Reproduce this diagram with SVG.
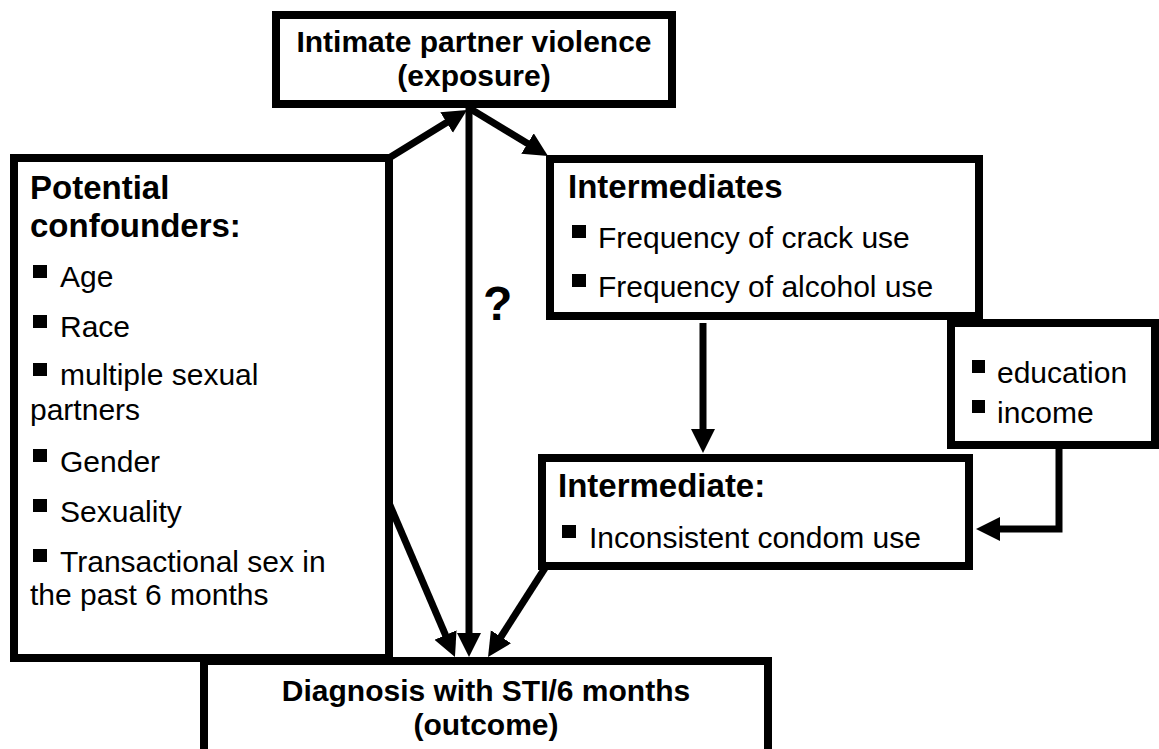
<svg xmlns="http://www.w3.org/2000/svg" width="1159" height="749" viewBox="0 0 1159 749">
  <defs>
    <marker id="head" markerUnits="userSpaceOnUse" markerWidth="26" markerHeight="26" refX="2" refY="12" orient="auto">
      <path d="M0,0 L24,12 L0,24 Z" fill="#000"/>
    </marker>
    <style>
      .box { fill: #fff; stroke: #000; stroke-width: 8; }
      .t { font-family: "Liberation Sans", Arial, sans-serif; fill: #000; }
      .title { font-size: 30px; font-weight: bold; text-anchor: middle; }
      .head { font-size: 33px; font-weight: bold; }
      .item { font-size: 30px; }
      .bul { fill: #000; }
      .link { fill: none; stroke: #000; stroke-width: 7; marker-end: url(#head); }
    </style>
  </defs>
  <rect width="1159" height="749" fill="#fff"/>

  <!-- outcome -->
  <g id="outcome">
    <rect class="box" x="204" y="661" width="564" height="92"/>
    <text class="t title" x="486" y="701">Diagnosis with STI/6 months</text>
    <text class="t title" x="486" y="735">(outcome)</text>
  </g>

  <!-- exposure -->
  <g id="exposure">
    <rect class="box" x="276" y="15" width="396" height="89"/>
    <text class="t title" x="474" y="52">Intimate partner violence</text>
    <text class="t title" x="474" y="86">(exposure)</text>
  </g>

  <!-- confounders -->
  <g id="confounders">
    <rect class="box" x="14" y="158" width="375" height="500"/>
    <text class="t head" x="30" y="199">Potential</text>
    <text class="t head" x="30" y="237">confounders:</text>
    <rect class="bul" x="33" y="265" width="14" height="13"/>
    <text class="t item" x="60" y="287">Age</text>
    <rect class="bul" x="33" y="315" width="14" height="13"/>
    <text class="t item" x="60" y="337">Race</text>
    <rect class="bul" x="33" y="363" width="14" height="13"/>
    <text class="t item" x="60" y="385">multiple sexual</text>
    <text class="t item" x="30" y="420">partners</text>
    <rect class="bul" x="33" y="449" width="14" height="13"/>
    <text class="t item" x="60" y="472">Gender</text>
    <rect class="bul" x="33" y="499" width="14" height="13"/>
    <text class="t item" x="60" y="522">Sexuality</text>
    <rect class="bul" x="33" y="549" width="14" height="13"/>
    <text class="t item" x="60" y="572">Transactional sex in</text>
    <text class="t item" x="30" y="605">the past 6 months</text>
  </g>

  <!-- intermediates -->
  <g id="intermediates">
    <rect class="box" x="550" y="159" width="429" height="157"/>
    <text class="t head" x="568" y="198">Intermediates</text>
    <rect class="bul" x="572" y="225" width="14" height="13"/>
    <text class="t item" x="598" y="248">Frequency of crack use</text>
    <rect class="bul" x="572" y="274" width="14" height="13"/>
    <text class="t item" x="598" y="297">Frequency of alcohol use</text>
  </g>

  <!-- socioeconomic factors -->
  <g id="socioeconomic">
    <rect class="box" x="951" y="323" width="204" height="122"/>
    <rect class="bul" x="972" y="360" width="13" height="13"/>
    <text class="t item" x="997" y="383">education</text>
    <rect class="bul" x="972" y="400" width="13" height="13"/>
    <text class="t item" x="997" y="423">income</text>
  </g>

  <!-- condom use -->
  <g id="condom-use">
    <rect class="box" x="542" y="458" width="427" height="108"/>
    <text class="t head" x="558" y="497">Intermediate:</text>
    <rect class="bul" x="562" y="525" width="14" height="13"/>
    <text class="t item" x="589" y="548">Inconsistent condom use</text>
  </g>

  <!-- uncertain direct effect -->
  <text class="t" x="483" y="320" font-size="48" font-weight="bold">?</text>

  <g id="connectors">
    <path class="link" d="M389,158 L448.3,121.5"/>
    <path class="link" d="M469,108 L529.2,144.6"/>
    <path class="link" d="M469,106 L469,635"/>
    <path class="link" d="M389,503 L446.3,636.8"/>
    <path class="link" d="M545,568 L499.9,638.5"/>
    <path class="link" d="M703,323 L703,431"/>
    <path class="link" d="M1059,449 L1059,529 L998,529"/>
  </g>
</svg>
